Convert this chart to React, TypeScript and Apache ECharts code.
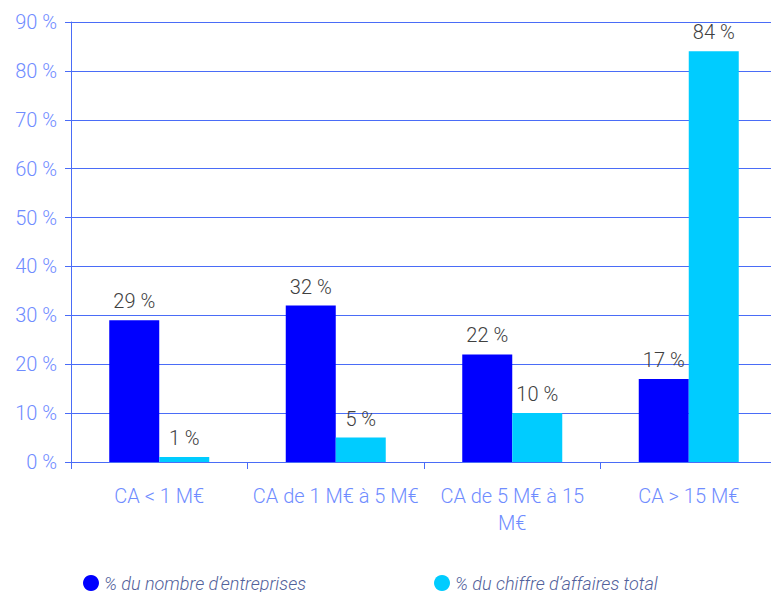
import React, { useEffect, useRef } from "react";
import * as echarts from "echarts";

const categories = ["CA < 1 M€", "CA de 1 M€ à 5 M€", "CA de 5 M€ à 15\nM€", "CA > 15 M€"];
const nombreEntreprises = [29, 32, 22, 17];
const chiffreAffaires = [1, 5, 10, 84];
const seriesNames = ["% du nombre d’entreprises", "% du chiffre d’affaires total"];

const FONT = "Roboto, 'Noto Sans', sans-serif";

export default function App() {
  const ref = useRef<HTMLDivElement>(null);
  useEffect(() => {
    if (!ref.current) return;
    const chart = echarts.init(ref.current, undefined, { renderer: "svg" });
    const labelCommon = {
      show: true,
      position: "top",
      formatter: "{c} %",
      color: "#404040",
      fontSize: 20,
      fontWeight: 300,
      fontFamily: FONT,
      distance: 9,
    };
    const legendText = {
      color: "#52619b",
      fontSize: 18,
      fontStyle: "italic",
      fontWeight: 300,
      fontFamily: FONT,
    };
    chart.setOption({
      animation: false,
      textStyle: { fontFamily: FONT },
      grid: { left: 71, top: 22, width: 706, height: 440, containLabel: false },
      legend: [
        {
          data: [seriesNames[0]],
          left: 78,
          top: 569,
          icon: "circle",
          itemWidth: 16,
          itemHeight: 16,
          itemGap: 6,
          textStyle: legendText,
        },
        {
          data: [seriesNames[1]],
          left: 429,
          top: 569,
          icon: "circle",
          itemWidth: 16,
          itemHeight: 16,
          itemGap: 6,
          textStyle: legendText,
        },
      ],
      xAxis: {
        type: "category",
        data: categories,
        axisLine: { lineStyle: { color: "#4a6cf7", width: 1 } },
        axisTick: { show: true, length: 7, lineStyle: { color: "#4a6cf7" } },
        axisLabel: {
          color: "#6f8cff",
          fontSize: 20,
          fontWeight: 300,
          fontFamily: FONT,
          margin: 20,
          lineHeight: 27,
          interval: 0,
        },
      },
      yAxis: {
        type: "value",
        min: 0,
        max: 90,
        interval: 10,
        axisLine: { show: true, lineStyle: { color: "#4a6cf7", width: 1 } },
        axisTick: { show: true, length: 6, lineStyle: { color: "#4a6cf7" } },
        splitLine: { lineStyle: { color: "#4a6cf7", width: 1 } },
        axisLabel: {
          formatter: "{value} %",
          color: "#6f8cff",
          fontSize: 20,
          fontWeight: 300,
          fontFamily: FONT,
          margin: 14,
        },
      },
      series: [
        {
          name: seriesNames[0],
          type: "bar",
          data: nombreEntreprises,
          barWidth: 50,
          barGap: "0%",
          itemStyle: { color: "#0000ff" },
          label: labelCommon,
        },
        {
          name: seriesNames[1],
          type: "bar",
          data: chiffreAffaires,
          barWidth: 50,
          barGap: "0%",
          itemStyle: { color: "#00ccff" },
          label: labelCommon,
        },
      ],
    });
    return () => chart.dispose();
  }, []);
  return (
    <div
      ref={ref}
      style={{ position: "absolute", left: 0, top: 0, width: 780, height: 592, background: "#fff" }}
    />
  );
}
